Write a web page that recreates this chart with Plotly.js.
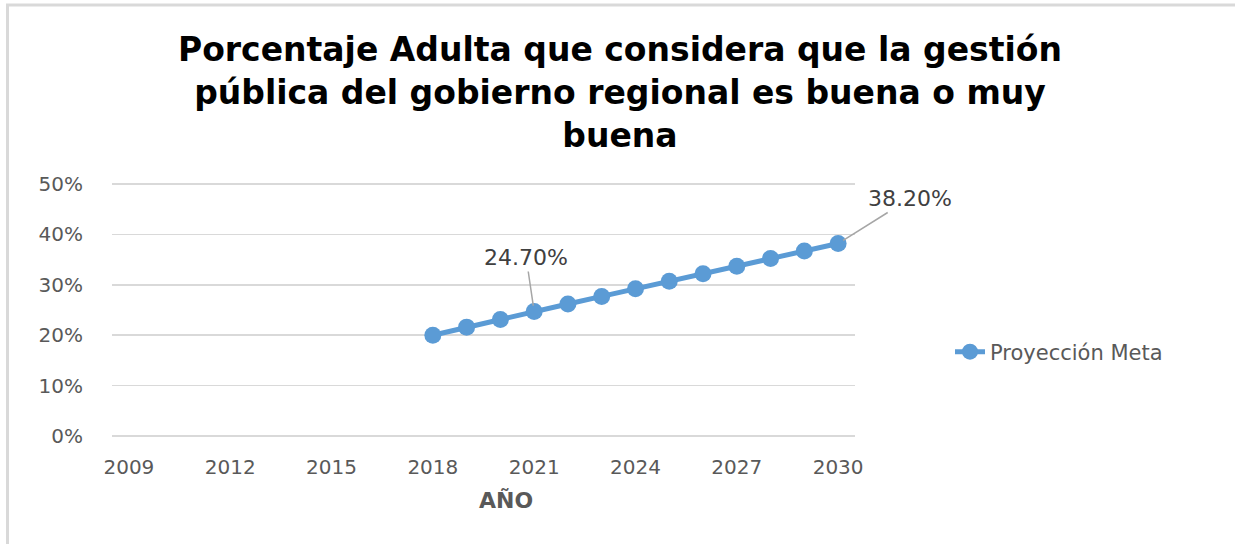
<!DOCTYPE html>
<html>
<head>
<meta charset="utf-8">
<script src="https://cdn.plot.ly/plotly-3.0.1.min.js"></script>
<style>html,body{margin:0;padding:0;background:#fff;}#chart{width:1235px;height:544px;}</style>
</head>
<body>
<div id="chart"></div>
<script>
const years = [2018, 2019, 2020, 2021, 2022, 2023, 2024, 2025, 2026, 2027, 2028, 2029, 2030];
const values = [0.200, 0.216, 0.231, 0.247, 0.262, 0.277, 0.292, 0.307, 0.322, 0.337, 0.352, 0.367, 0.382];
const tickYears = [2009, 2012, 2015, 2018, 2021, 2024, 2027, 2030];
const yTicks = [0, 0.1, 0.2, 0.3, 0.4, 0.5];
const seriesName = 'Proyección Meta';
const labelled = [{year: 2021, value: 0.247, text: '24.70%'}, {year: 2030, value: 0.382, text: '38.20%'}];

const blue = '#5b9bd5';
const gray = '#595959';
const W = 1235, H = 544, L = 112, R = 380, T = 179, B = 103;
const pw = W - L - R, ph = H - T - B;
const px = v => (v - L) / pw;
const py = v => (H - B - v) / ph;

const trace = {
  x: years, y: values, type: 'scatter', mode: 'lines+markers', name: seriesName,
  line: {color: blue, width: 5},
  marker: {color: blue, size: 17},
  hoverinfo: 'skip'
};

const offsets = [[-8, -54], [72, -45]];
const annotations = labelled.map((d, i) => ({
  x: d.year, y: d.value, xref: 'x', yref: 'y', text: d.text,
  showarrow: true, arrowhead: 0, arrowwidth: 1.5, arrowcolor: '#a6a6a6',
  ax: offsets[i][0], ay: offsets[i][1], standoff: 6,
  font: {family: 'DejaVu Sans', size: 22, color: '#404040'}
}));
annotations.push({
  x: px(506), y: py(500), xref: 'paper', yref: 'paper', xanchor: 'center', yanchor: 'middle',
  text: '<b>AÑO</b>', showarrow: false,
  font: {family: 'DejaVu Sans', size: 22, color: gray}
});

const layout = {
  width: W, height: H,
  margin: {l: L, r: R, t: T, b: B},
  paper_bgcolor: '#fff', plot_bgcolor: '#fff',
  showlegend: true,
  title: {
    text: '<b>Porcentaje Adulta que considera que la gestión<br>pública del gobierno regional es buena o muy<br>buena</b>',
    x: 0.502, xref: 'container', xanchor: 'center',
    y: 0.888, yref: 'container', yanchor: 'top',
    font: {family: 'DejaVu Sans', size: 33, color: '#000'}
  },
  xaxis: {
    type: 'linear', range: [2008.5, 2030.5],
    tickvals: tickYears, ticktext: tickYears.map(String),
    showgrid: false, zeroline: false, showline: false, ticks: '',
    tickfont: {family: 'DejaVu Sans', size: 20, color: gray},
    ticklabelstandoff: 12
  },
  yaxis: {
    range: [-0.01, 0.51], tickvals: yTicks, tickformat: '.0%',
    showgrid: true, gridcolor: '#d9d9d9', gridwidth: 1.5,
    zeroline: false, showline: false, ticks: '',
    tickfont: {family: 'DejaVu Sans', size: 20, color: gray},
    ticklabelstandoff: 28
  },
  legend: {
    x: px(950), y: py(352), xanchor: 'left', yanchor: 'middle',
    font: {family: 'DejaVu Sans', size: 21, color: gray},
    bgcolor: 'rgba(0,0,0,0)'
  },
  annotations: annotations,
  shapes: [
    {type: 'line', xref: 'paper', yref: 'paper', x0: px(7.5), x1: px(7.5), y0: py(5), y1: py(544), line: {color: '#d9d9d9', width: 3}},
    {type: 'line', xref: 'paper', yref: 'paper', x0: px(6), x1: px(1235), y0: py(5), y1: py(5), line: {color: '#d9d9d9', width: 3}}
  ]
};

Plotly.newPlot('chart', [trace], layout, {displayModeBar: false, staticPlot: true});
</script>
</body>
</html>
